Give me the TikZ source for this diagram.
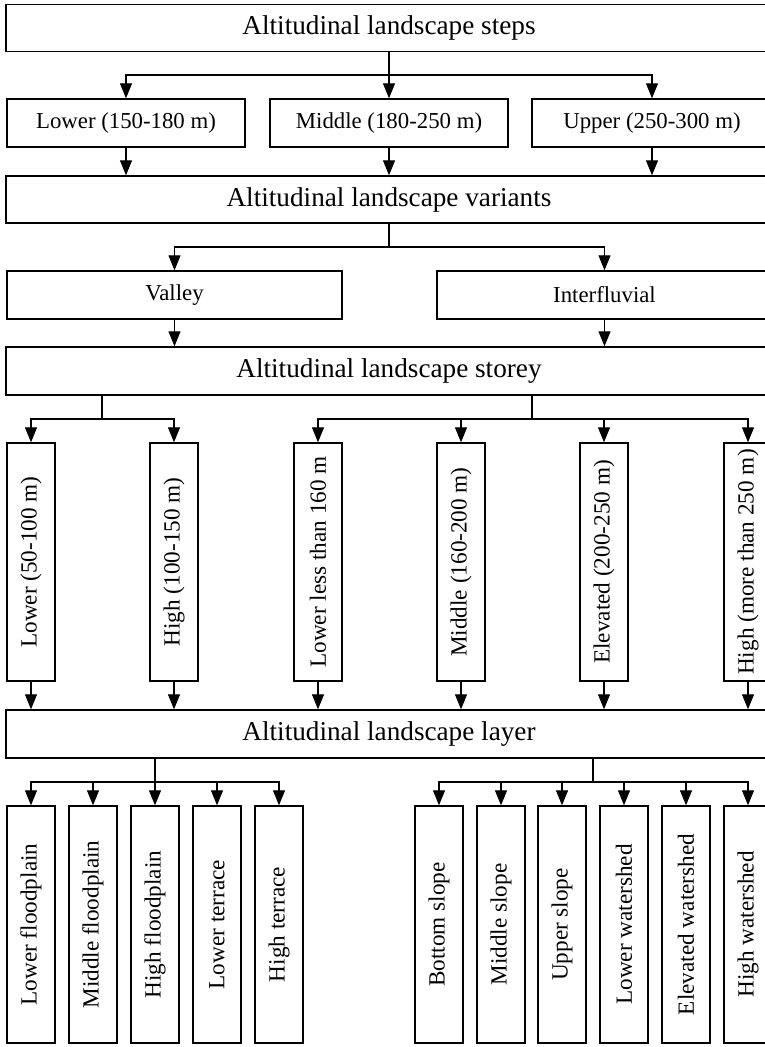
\documentclass[tikz,border=0pt]{standalone}
\usepackage{fontspec}
\setmainfont{Liberation Serif}
\usepackage{tikz}
\usetikzlibrary{arrows.meta,calc}
\tikzset{>={Triangle[length=15pt,width=12pt]}}

\begin{document}
\begin{tikzpicture}[x=1pt,y=-1pt,line width=1.1pt,
		hbox/.style={draw,line width=1.4pt,inner sep=0pt,minimum height=47pt},
		vbox/.style={draw,line width=1.4pt,inner sep=0pt,minimum width=48pt,minimum height=238pt,font=\fontsize{23.2}{27}\selectfont},
		head/.style={font=\fontsize{27.2}{31}\selectfont},
		sub/.style={font=\fontsize{22.8}{26}\selectfont}]
	\useasboundingbox (0,0) rectangle (765,1047);
	\fill[white] (0,0) rectangle (765,1047);
	\clip (0,0) rectangle (765,1047);
	
	% steps
	\node[hbox,head,minimum width=766pt] (steps) at (389,28) {Altitudinal landscape steps};
	\node[hbox,sub,minimum width=238pt,minimum height=48pt] (lowstep) at (126,123) {Lower (150-180 m)};
	\node[hbox,sub,minimum width=238pt,minimum height=48pt] (midstep) at (389,123) {Middle (180-250 m)};
	\node[hbox,sub,minimum width=240pt,minimum height=48pt] (upstep) at (652,123) {Upper (250-300 m)};
	
	\coordinate (jsteps) at (389,75);
	\draw (steps.south) -- (jsteps);
	\draw[->] (jsteps) -| (lowstep.north);
	\draw[->] (jsteps) -- (midstep.north);
	\draw[->] (jsteps) -| (upstep.north);
	
	% variants
	\node[hbox,head,minimum width=766pt] (variants) at (389,199.5) {Altitudinal landscape variants};
	\draw[->] (lowstep.south) -- (lowstep.south |- variants.north);
	\draw[->] (midstep.south) -- (midstep.south |- variants.north);
	\draw[->] (upstep.south) -- (upstep.south |- variants.north);
	
	\node[hbox,sub,minimum width=335pt,minimum height=48pt] (valley) at (174.5,295) {Valley};
	\node[hbox,sub,minimum width=335pt,minimum height=48pt] (interfl) at (604.5,295) {Interfluvial};
	
	\coordinate (jvar) at (389,247);
	\draw (variants.south) -- (jvar);
	\draw[->] (jvar) -| (valley.north);
	\draw[->] (jvar) -| (interfl.north);
	
	% storey
	\node[hbox,head,minimum width=766pt,minimum height=48pt] (storey) at (389,371) {Altitudinal landscape storey};
	\draw[->] (valley.south) -- (valley.south |- storey.north);
	\draw[->] (interfl.south) -- (interfl.south |- storey.north);
	
	\node[vbox] (st1) at (31,562) {\rotatebox{90}{Lower (50-100 m)}};
	\node[vbox] (st2) at (174,562) {\rotatebox{90}{High (100-150 m)}};
	\node[vbox] (st3) at (318,562) {\rotatebox{90}{Lower less than 160 m}};
	\node[vbox] (st4) at (461,562) {\rotatebox{90}{Middle (160-200 m)}};
	\node[vbox] (st5) at (604,562) {\rotatebox{90}{Elevated (200-250 m)}};
	\node[vbox] (st6) at (748,562) {\rotatebox{90}{High (more than 250 m)}};
	
	\coordinate (jval) at (102,419);
	\coordinate (jint) at (532,419);
	\draw (jval |- storey.south) -- (jval);
	\draw[->] (jval) -| (st1.north);
	\draw[->] (jval) -| (st2.north);
	\draw (jint |- storey.south) -- (jint);
	\draw[->] (jint) -| (st3.north);
	\draw[->] (jint) -| (st4.north);
	\draw[->] (jint) -| (st5.north);
	\draw[->] (jint) -| (st6.north);
	
	% layer
	\node[hbox,head,minimum width=766pt,minimum height=48pt] (layer) at (389,734) {Altitudinal landscape layer};
	\draw[->] (st1.south) -- (st1.south |- layer.north);
	\draw[->] (st2.south) -- (st2.south |- layer.north);
	\draw[->] (st3.south) -- (st3.south |- layer.north);
	\draw[->] (st4.south) -- (st4.south |- layer.north);
	\draw[->] (st5.south) -- (st5.south |- layer.north);
	\draw[->] (st6.south) -- (st6.south |- layer.north);
	
	\node[vbox,minimum height=237pt] (ly1) at (31,924.5) {\rotatebox{90}{Lower floodplain}};
	\node[vbox,minimum height=237pt] (ly2) at (93,924.5) {\rotatebox{90}{Middle floodplain}};
	\node[vbox,minimum height=237pt] (ly3) at (155,924.5) {\rotatebox{90}{High floodplain}};
	\node[vbox,minimum height=237pt] (ly4) at (217,924.5) {\rotatebox{90}{Lower terrace}};
	\node[vbox,minimum height=237pt] (ly5) at (279,924.5) {\rotatebox{90}{High terrace}};
	
	\node[vbox,minimum height=237pt] (ly6) at (439,924.5) {\rotatebox{90}{Bottom slope}};
	\node[vbox,minimum height=237pt] (ly7) at (501,924.5) {\rotatebox{90}{Middle slope}};
	\node[vbox,minimum height=237pt] (ly8) at (562,924.5) {\rotatebox{90}{Upper slope}};
	\node[vbox,minimum height=237pt] (ly9) at (624,924.5) {\rotatebox{90}{Lower watershed}};
	\node[vbox,minimum height=237pt] (ly10) at (686,924.5) {\rotatebox{90}{Elevated watershed}};
	\node[vbox,minimum height=237pt] (ly11) at (748,924.5) {\rotatebox{90}{High watershed}};
	
	\coordinate (jlow) at (155,782);
	\coordinate (jhigh) at (593,782);
	\draw (jlow |- layer.south) -- (jlow);
	\draw[->] (jlow) -| (ly1.north);
	\draw[->] (jlow) -| (ly2.north);
	\draw[->] (jlow) -- (ly3.north);
	\draw[->] (jlow) -| (ly4.north);
	\draw[->] (jlow) -| (ly5.north);
	\draw (jhigh |- layer.south) -- (jhigh);
	\draw[->] (jhigh) -| (ly6.north);
	\draw[->] (jhigh) -| (ly7.north);
	\draw[->] (jhigh) -| (ly8.north);
	\draw[->] (jhigh) -| (ly9.north);
	\draw[->] (jhigh) -| (ly10.north);
	\draw[->] (jhigh) -| (ly11.north);
\end{tikzpicture}
\end{document}
